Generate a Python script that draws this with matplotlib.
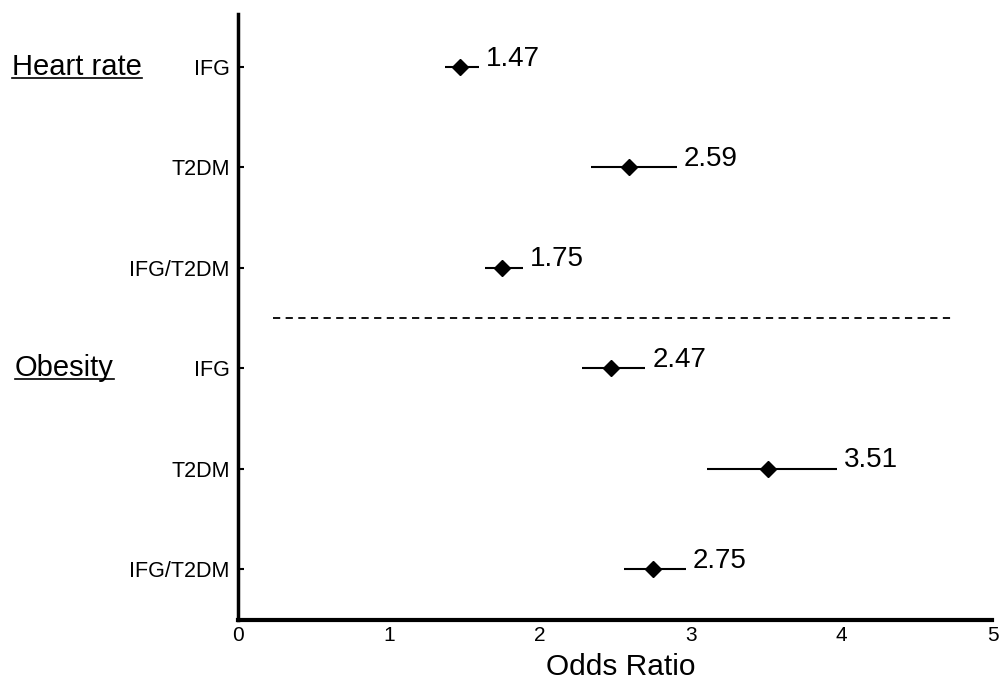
"""
Forest plot of odds ratios for heart rate and obesity by glycaemic status.
"""
import matplotlib
matplotlib.use("Agg")
import matplotlib.pyplot as plt

plt.rcParams['font.family'] = ['Liberation Sans', 'DejaVu Sans']

# data
groups = ['Heart rate', 'Obesity']
categories = ['IFG', 'T2DM', 'IFG/T2DM', 'IFG', 'T2DM', 'IFG/T2DM']
odds_ratio = [1.47, 2.59, 1.75, 2.47, 3.51, 2.75]
ci_low = [1.37, 2.34, 1.64, 2.28, 3.11, 2.56]
ci_high = [1.60, 2.91, 1.89, 2.70, 3.97, 2.97]
x_ticks = [0, 1, 2, 3, 4, 5]

fig = plt.figure(figsize=(10.02, 6.86), dpi=100)
ax = fig.add_axes([0.2375, 0.096, 0.753, 0.884])

rows = list(range(len(categories)))

# confidence intervals and point estimates
ax.hlines(rows, ci_low, ci_high, color='black', lw=1.5)
ax.plot(odds_ratio, rows, 'D', color='black', markersize=8, linestyle='none')

for y, est, hi in zip(rows, odds_ratio, ci_high):
    ax.annotate(f'{est:.2f}', xy=(hi, y), xytext=(5, 6),
                textcoords='offset points', ha='left', va='center',
                fontsize=20)

# separator between the two groups
ax.hlines(2.5, 0.23, 4.74, color='black', lw=1.3, linestyles=(0, (4, 3)))

ax.set_xlim(0, 5)
ax.set_ylim(5.51, -0.53)
ax.set_xticks(x_ticks)
ax.set_xticklabels([str(t) for t in x_ticks], fontsize=15)
ax.set_yticks(rows)
ax.set_yticklabels(categories, fontsize=15.5)
ax.tick_params(axis='x', length=0, pad=4)
ax.tick_params(axis='y', direction='in', length=4, width=1.5, pad=6)

for side in ['top', 'right']:
    ax.spines[side].set_visible(False)
ax.spines['left'].set_linewidth(2.5)
ax.spines['bottom'].set_linewidth(3)

ax.set_xlabel('Odds Ratio', fontsize=21.5, va='center')
ax.xaxis.set_label_coords(0.507, -0.078)

# group headings, underlined
for label, y, x0 in zip(groups, [0, 3], [12, 15]):
    t = fig.text(x0 / 1002, 1 - (67 + y * 100.4) / 686, label, fontsize=21,
                 ha='left', va='center')
    fig.canvas.draw()
    bb = t.get_window_extent()
    fig.add_artist(plt.Line2D([bb.x0 / 1002, bb.x1 / 1002],
                              [bb.y0 / 686 + 0.004, bb.y0 / 686 + 0.004],
                              color='black', lw=1.2))

fig.savefig('out.png', dpi=100)
